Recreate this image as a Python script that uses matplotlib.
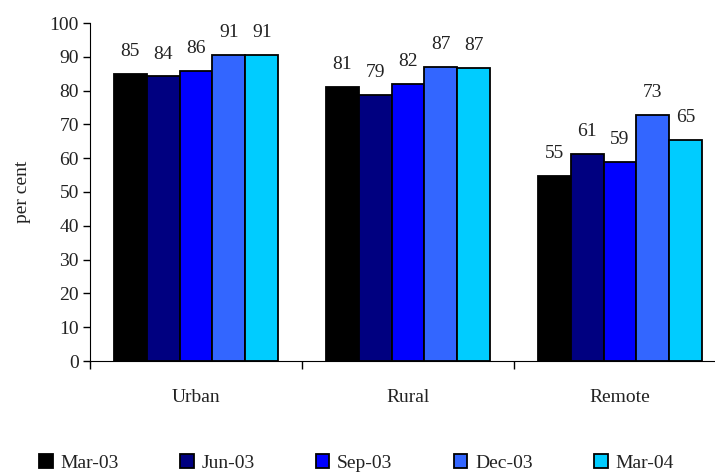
import numpy as np
import matplotlib
matplotlib.use("Agg")
import matplotlib.pyplot as plt

# data
categories = ["Urban", "Rural", "Remote"]
periods = ["Mar-03", "Jun-03", "Sep-03", "Dec-03", "Mar-04"]
mar03 = [84.8, 81.2, 54.8]
jun03 = [84.2, 78.8, 61.2]
sep03 = [85.9, 81.9, 58.8]
dec03 = [90.6, 87.1, 72.9]
mar04 = [90.6, 86.6, 65.3]
series = [mar03, jun03, sep03, dec03, mar04]
colors = ["#000000", "#000080", "#0000FF", "#3366FF", "#00CCFF"]

plt.rcParams['font.family'] = ['Liberation Serif', 'DejaVu Serif']
txt = "#222222"

fig = plt.figure(figsize=(7.15, 4.75), dpi=100)
ax = fig.add_axes([90 / 715, 114 / 475, 636 / 715, 338 / 475])

x = np.arange(len(categories)) + 0.5
w = 0.155
for i, (vals, col, lab) in enumerate(zip(series, colors, periods)):
    pos = x + (i - 2) * w
    ax.bar(pos, vals, width=w, color=col, edgecolor="black", linewidth=1.3,
           label=lab)
    for p, v in zip(pos, vals):
        ax.annotate(f"{v:.0f}", (p, v), xytext=(0, 10), textcoords="offset points",
                    ha="center", va="bottom", fontsize=14, color=txt)

ax.set_xlim(0, 3)
ax.set_ylim(0, 100)
ax.set_yticks(range(0, 101, 10))
ax.set_xticks([0, 1, 2, 3])
ax.set_xticklabels([])
ax.set_xticks(x, minor=True)
ax.set_xticklabels(categories, minor=True)
ax.tick_params(axis="x", which="minor", length=0, pad=20, labelsize=14,
               labelcolor=txt)
ax.tick_params(axis="x", which="major", direction="out", length=6, width=1)
ax.tick_params(axis="y", direction="out", length=5, width=1, labelsize=14,
               labelcolor=txt, pad=3)
ax.spines["top"].set_visible(False)
ax.spines["right"].set_visible(False)
ax.set_ylabel("per cent", fontsize=14, labelpad=13, color=txt)

fig.legend(loc="lower left", bbox_to_anchor=(0.03, -0.03), ncol=5, frameon=False,
           fontsize=14, handlelength=0.7, handleheight=0.7, handletextpad=0.4,
           columnspacing=3.15, labelcolor=txt)

fig.savefig("out.png", dpi=100)
